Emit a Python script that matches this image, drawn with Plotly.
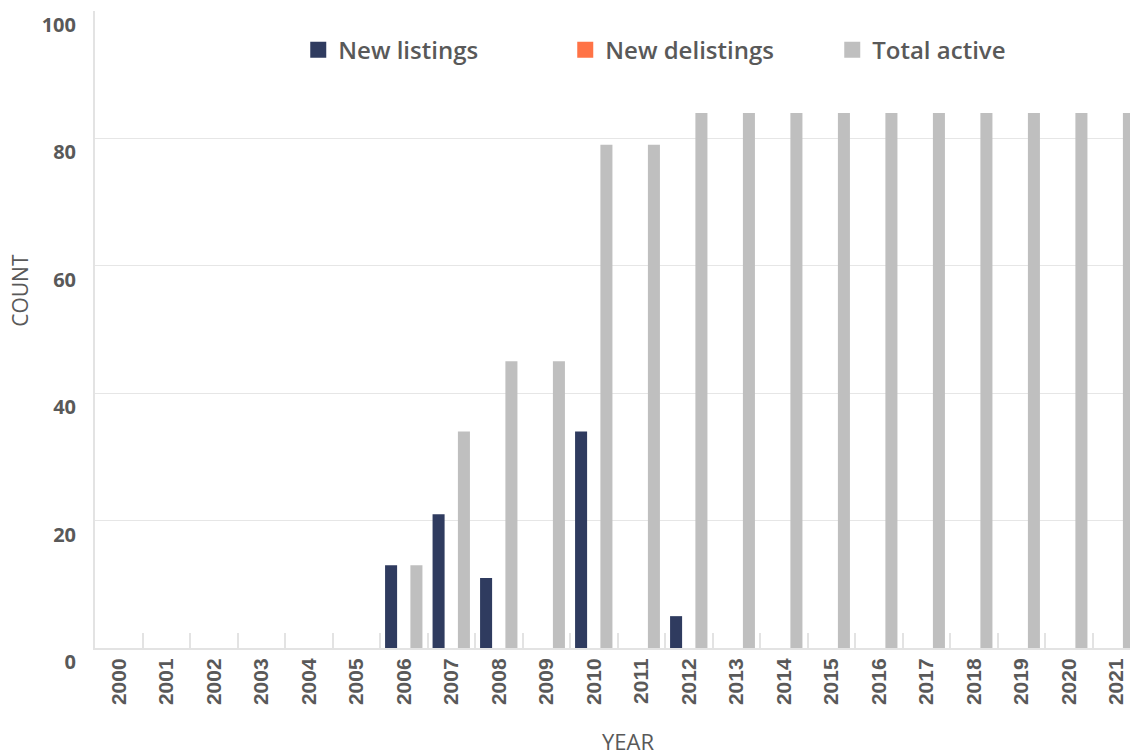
import plotly.graph_objects as go

years = [str(y) for y in range(2000, 2022)]
new_listings = [0, 0, 0, 0, 0, 0, 13, 21, 11, 0, 34, 0, 5, 0, 0, 0, 0, 0, 0, 0, 0, 0]
new_delistings = [0] * 22
total_active = [0, 0, 0, 0, 0, 0, 13, 34, 45, 45, 79, 79, 84, 84, 84, 84, 84, 84, 84, 84, 84, 84]

series_names = ["New listings", "New delistings", "Total active"]
colors = ["#2F3B5F", "#FF7346", "#BFBFBF"]
text_color = "#595959"

fig = go.Figure()
for name, values, color in zip(series_names, [new_listings, new_delistings, total_active], colors):
    fig.add_trace(go.Bar(x=years, y=values, name=name, marker_color=color,
                         marker_line_width=0, showlegend=False))
    # larger legend swatch
    fig.add_trace(go.Scatter(x=[None], y=[None], mode="markers", name=name,
                             marker=dict(symbol="square", size=16, color=color)))

# the page body adds an 8px offset, so margins are trimmed by that much
fig.update_layout(
    width=1138, height=753,
    margin=dict(l=87, r=6, t=3, b=113),
    paper_bgcolor="white", plot_bgcolor="white",
    barmode="group", bargap=0.2, bargroupgap=0.05,
    font=dict(family="Open Sans", color=text_color),
    legend=dict(orientation="h", x=0.1945, y=0.974, xanchor="left", yanchor="top",
                font=dict(size=24, weight=600, color=text_color),
                entrywidth=222, bgcolor="rgba(0,0,0,0)"),
    xaxis=dict(type="category", automargin=False, showline=True, linecolor="#E3E3E3", linewidth=2,
               ticks="inside", tickson="boundaries", ticklen=15, tickcolor="#E3E3E3",
               tickwidth=2, tickangle=-90,
               tickfont=dict(family="Liberation Sans", size=21, weight="bold", color=text_color)),
    yaxis=dict(range=[0, 100], dtick=20, automargin=False, showgrid=True, gridcolor="#E6E6E6", gridwidth=1,
               showline=True, linecolor="#E3E3E3", linewidth=2, zeroline=False,
               ticklabelposition="outside bottom", ticklabelstandoff=13,
               tickfont=dict(size=20, weight="bold", color=text_color)),
    annotations=[
        dict(text="COUNT", x=-0.072, y=0.562, xref="paper", yref="paper", showarrow=False,
             xanchor="center", yanchor="middle",
             textangle=-90, font=dict(size=21, color=text_color)),
        dict(text="YEAR", x=0.51, y=-0.146, xref="paper", yref="paper", showarrow=False,
             yanchor="middle", font=dict(size=22, color=text_color)),
    ],
)

fig.write_html("out.html")
